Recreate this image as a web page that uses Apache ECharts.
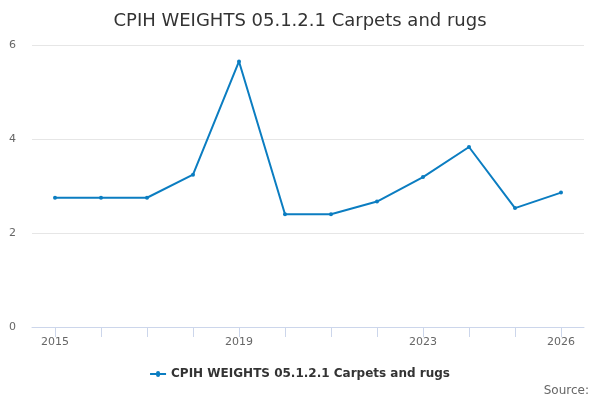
<!DOCTYPE html>
<html><head><meta charset="utf-8">
<script src="https://cdn.jsdelivr.net/npm/echarts@6/dist/echarts.min.js"></script>
<style>html,body{margin:0;padding:0;background:#fff}#c{width:600px;height:400px}</style>
</head><body><div id="c"></div>
<script>
const titleText = "CPIH WEIGHTS 05.1.2.1 Carpets and rugs";
const seriesName = "CPIH WEIGHTS 05.1.2.1 Carpets and rugs";
const years = ["2015","2016","2017","2018","2019","2020","2021","2022","2023","2024","2025","2026"];
const values = [2.75, 2.75, 2.75, 3.24, 5.65, 2.40, 2.40, 2.67, 3.19, 3.83, 2.53, 2.86];
const shownLabels = ["2015","2019","2023","2026"];
const yTicks = {min: 0, max: 6, interval: 2};

const chart = echarts.init(document.getElementById('c'), null, {renderer: 'canvas'});
const font = 'DejaVu Sans';
chart.setOption({
  animation: false,
  textStyle: {fontFamily: font},
  title: {text: titleText, left: 'center', top: 7,
    textStyle: {fontFamily: font, fontSize: 18, fontWeight: 'normal', color: '#333333'}},
  graphic: [{type: 'text', right: 11, top: 385,
    style: {text: 'Source:', fontFamily: font, fontSize: 12, fill: '#666666'}}],
  legend: {bottom: 15, left: 'center', itemWidth: 16, itemHeight: 8,
    textStyle: {fontFamily: font, fontSize: 12, fontWeight: 'bold', color: '#333333'},
    data: [{name: seriesName, icon: 'path://M0,3L6,3A2,2,0,0,1,10,3L16,3L16,5L10,5A2,2,0,0,1,6,5L0,5Z'}]},
  grid: {left: 32, right: 16, top: 45, bottom: 73},
  xAxis: {type: 'category', data: years, boundaryGap: true,
    axisLine: {show: true, lineStyle: {color: '#ccd6eb'}},
    axisTick: {show: true, alignWithLabel: true, interval: 0, length: 10, lineStyle: {color: '#ccd6eb', width: 1}},
    axisLabel: {interval: (i, v) => shownLabels.includes(v), color: '#666666', fontSize: 11, fontFamily: font, margin: 10}},
  yAxis: {type: 'value', min: yTicks.min, max: yTicks.max, interval: yTicks.interval,
    axisLine: {show: false}, axisTick: {show: false},
    axisLabel: {color: '#666666', fontSize: 11, fontFamily: font, margin: 16},
    splitLine: {lineStyle: {color: '#e6e6e6'}}},
  series: [{name: seriesName, type: 'line', data: values,
    symbol: 'circle', symbolSize: 4, showSymbol: true,
    lineStyle: {color: '#0b7dc1', width: 2},
    itemStyle: {color: '#0b7dc1'}}]
});
</script></body></html>
